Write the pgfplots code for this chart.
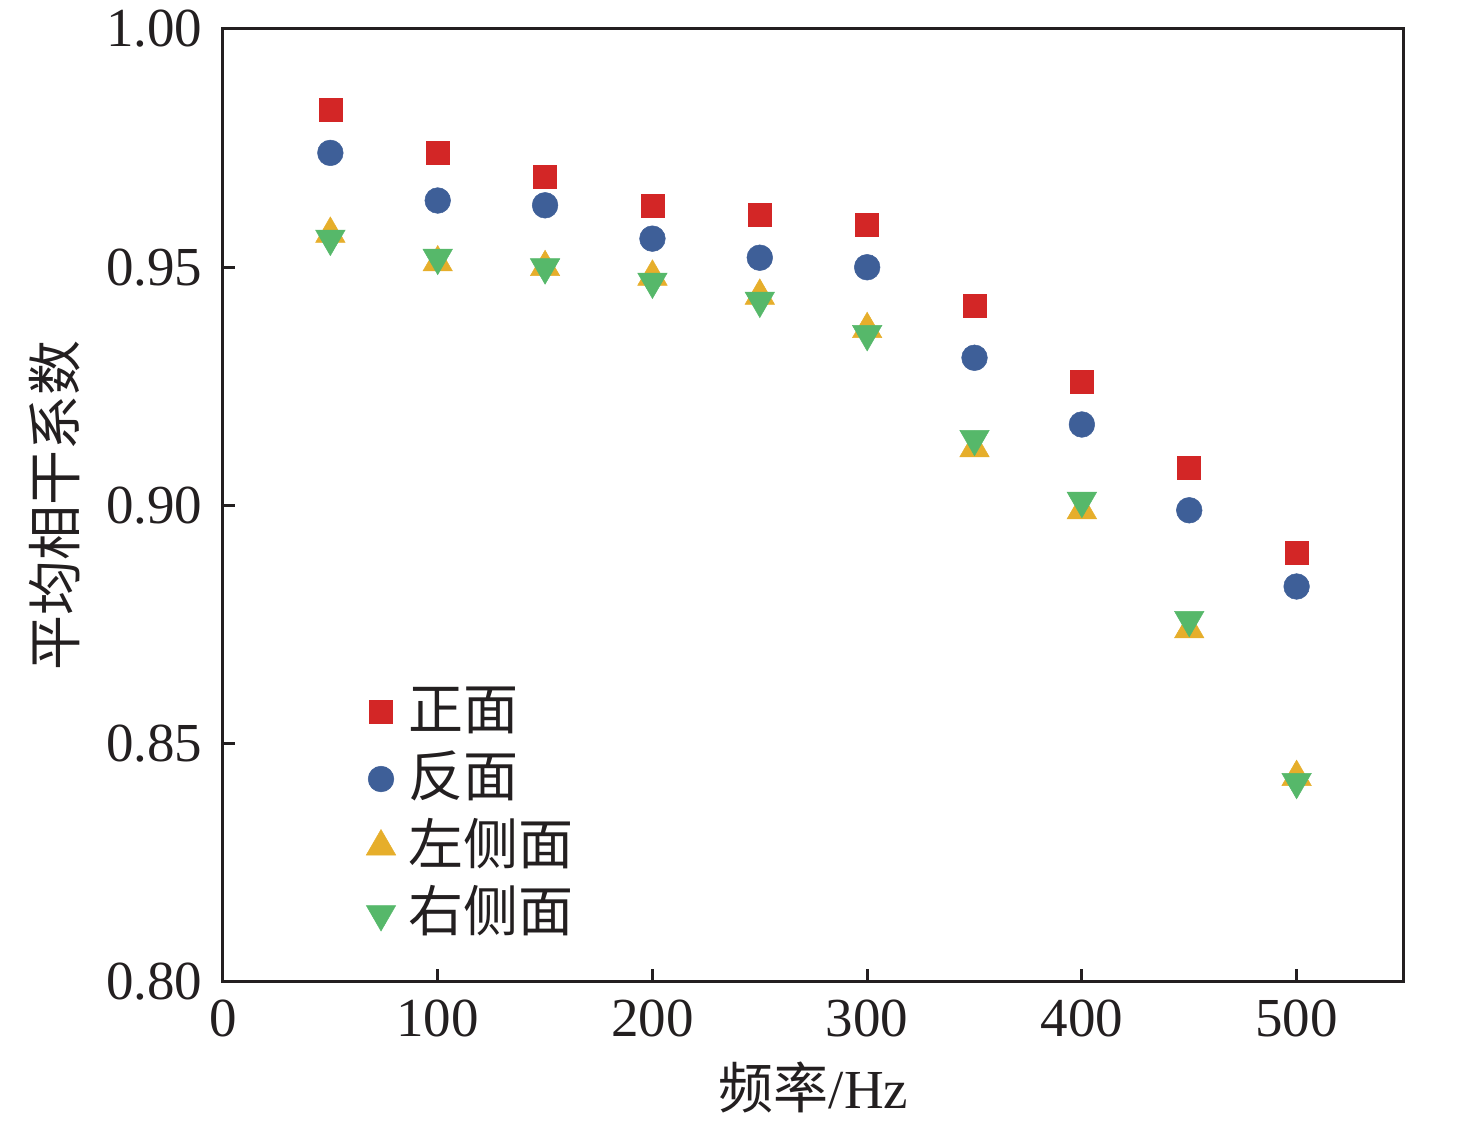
\documentclass[border=0pt]{standalone}
\usepackage{fontspec}
\setmainfont{Liberation Serif}
\newfontfamily\cjk{Noto Sans CJK SC}
\usepackage{pgfplots}
\pgfplotsset{compat=1.18}
\definecolor{cred}{RGB}{211,38,38}
\definecolor{cblue}{RGB}{62,95,152}
\definecolor{cyel}{RGB}{230,174,43}
\definecolor{cgreen}{RGB}{86,184,106}
\definecolor{ink}{RGB}{35,31,32}
\pgfplotstableread{
x red blue yel green
50 0.983 0.974 0.957 0.956
100 0.974 0.964 0.951 0.952
150 0.969 0.963 0.950 0.950
200 0.963 0.956 0.948 0.947
250 0.961 0.952 0.944 0.943
300 0.959 0.950 0.937 0.936
350 0.942 0.931 0.912 0.914
400 0.926 0.917 0.899 0.901
450 0.908 0.899 0.874 0.876
500 0.890 0.883 0.843 0.842
}\datatab
\begin{document}
\begin{tikzpicture}
\begin{axis}[
  name=ax,
  scale only axis,
  width=236.2pt, height=190.6pt,
  xmin=0, xmax=550, ymin=0.80, ymax=1.00,
  xtick={0,100,200,300,400,500},
  ytick={0.80,0.85,0.90,0.95,1.00},
  yticklabel style={/pgf/number format/fixed, /pgf/number format/fixed zerofill, /pgf/number format/precision=2, xshift=-0.6pt},
  /pgf/number format/assume math mode=true,
  tick align=inside,
  xtick pos=bottom, ytick pos=left,
  major tick length=2.5pt,
  tick style={line width=0.6pt, color=ink},
  axis line style={line width=0.6pt, color=ink},
  font=\fontsize{11}{13}\selectfont,
  tick label style={font=\fontsize{11}{13}\selectfont, color=ink},
  xlabel={{\cjk 频率}/Hz},
  ylabel={\cjk 平均相干系数},
  every axis x label/.style={at={(axis description cs:0.5,-0.111)}, anchor=center, font=\fontsize{11}{13}\selectfont, color=ink},
  every axis y label/.style={at={(axis description cs:-0.1423,0.5)}, anchor=center, rotate=90, font=\fontsize{11}{13}\selectfont, color=ink},
  legend image code/.code={\draw[#1] plot coordinates {(0pt,0pt)};},
  legend style={at={(axis description cs:0.1205,0.3137)}, anchor=north west, draw=none, fill=none,
    inner sep=0pt, row sep=2.5pt, column sep=2.6pt,
    nodes={inner sep=0pt, text height=9pt, text depth=2pt, font=\fontsize{11}{13}\selectfont\cjk, text=ink}},
  legend cell align=left,
]
\addplot[only marks, mark=square*, mark size=2.3pt, mark options={fill=cred, draw=cred, line width=0.1pt}] table[x=x, y=red] {\datatab};
\addlegendentry{正面}
\addplot[only marks, mark=*, mark size=2.57pt, mark options={fill=cblue, draw=cblue, line width=0.1pt}] table[x=x, y=blue] {\datatab};
\addlegendentry{反面}
\addplot[only marks, mark=triangle*, mark size=3.4pt, mark options={fill=cyel, draw=cyel, line width=0.1pt}] table[x=x, y=yel] {\datatab};
\addlegendentry{左侧面}
\addplot[only marks, mark=triangle*, mark size=3.4pt, mark options={rotate=180, fill=cgreen, draw=cgreen, line width=0.1pt}] table[x=x, y=green] {\datatab};
\addlegendentry{右侧面}
\end{axis}
\pgfresetboundingbox
\path (ax.south west) ++(-44.6pt,-28.2pt) coordinate (bl);
\path (ax.south west) ++(250.6pt,196.4pt) coordinate (tr);
\path[use as bounding box] (bl) rectangle (tr);
\end{tikzpicture}
\end{document}
